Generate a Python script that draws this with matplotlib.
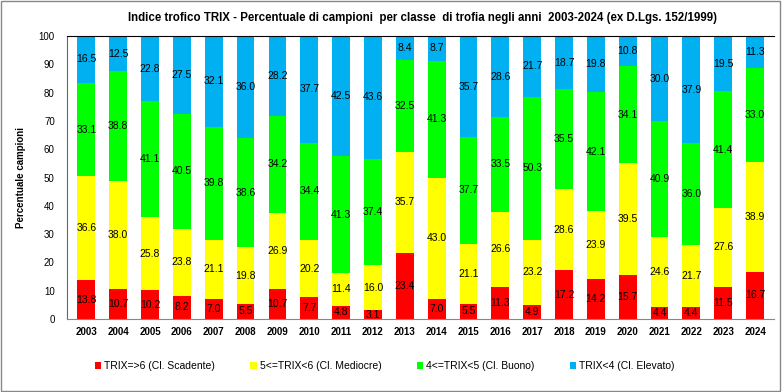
import numpy as np
import matplotlib.pyplot as plt
from matplotlib.patches import Rectangle

years = [str(y) for y in range(2003, 2025)]
scadente = [13.8, 10.7, 10.2, 8.2, 7.0, 5.5, 10.7, 7.7, 4.8, 3.1, 23.4,
            7.0, 5.5, 11.3, 4.9, 17.2, 14.2, 15.7, 4.4, 4.4, 11.5, 16.7]
mediocre = [36.6, 38.0, 25.8, 23.8, 21.1, 19.8, 26.9, 20.2, 11.4, 16.0, 35.7,
            43.0, 21.1, 26.6, 23.2, 28.6, 23.9, 39.5, 24.6, 21.7, 27.6, 38.9]
buono = [33.1, 38.8, 41.1, 40.5, 39.8, 38.6, 34.2, 34.4, 41.3, 37.4, 32.5,
         41.3, 37.7, 33.5, 50.3, 35.5, 42.1, 34.1, 40.9, 36.0, 41.4, 33.0]
elevato = [16.5, 12.5, 22.8, 27.5, 32.1, 36.0, 28.2, 37.7, 42.5, 43.6, 8.4,
           8.7, 35.7, 28.6, 21.7, 18.7, 19.8, 10.8, 30.0, 37.9, 19.5, 11.3]

series = [
    ("TRIX=>6 (Cl. Scadente)", scadente, "#ff0000"),
    ("5<=TRIX<6 (Cl. Mediocre)", mediocre, "#ffff00"),
    ("4<=TRIX<5 (Cl. Buono)", buono, "#00ff00"),
    ("TRIX<4 (Cl. Elevato)", elevato, "#00b0f0"),
]

plt.rcParams['font.family'] = ['Liberation Sans', 'DejaVu Sans']

fig = plt.figure(figsize=(7.82, 3.92), dpi=100)
fig.patches.append(Rectangle((0.001, 0.002), 0.997, 0.995, transform=fig.transFigure,
                             fill=False, edgecolor='#888888', linewidth=1))
ax = fig.add_axes([0.086, 0.186, 0.904, 0.722])

x = np.arange(len(years))
bottom = np.zeros(len(years))
for name, vals, col in series:
    vals = np.array(vals)
    ax.bar(x, vals, 0.56, bottom=bottom, color=col, label=name)
    for xi, b, v in zip(x, bottom, vals):
        ax.text(xi, b + v / 2, f"{v:.1f}", ha='center', va='center', fontsize=7.5)
    bottom += vals

ax.set_xlim(-0.6, len(years) - 0.4)
ax.set_ylim(0, 100)
ax.set_yticks(range(0, 101, 10))
ax.set_xticks(x)
ax.set_xticklabels(years, fontsize=7, fontweight='bold')
ax.tick_params(axis='y', labelsize=7, length=0, pad=9)
ax.tick_params(axis='x', length=0, pad=6)
ax.set_ylabel("Percentuale campioni", fontsize=7, fontweight='bold', labelpad=9)
ax.spines['left'].set_linestyle((0, (2, 1)))
ax.spines['left'].set_color('#4a6a90')
ax.spines['right'].set_visible(False)
ax.spines['bottom'].set_color('#888888')
ax.spines['top'].set_color('black')

fig.text(0.54, 0.955, "Indice trofico TRIX - Percentuale di campioni  per classe  di trofia negli anni  2003-2024 (ex D.Lgs. 152/1999)",
         ha='center', va='center', fontsize=8.3, fontweight='bold')

fig.legend(loc='center', bbox_to_anchor=(0.492, 0.066), ncol=4, frameon=False,
           fontsize=7.5, handlelength=0.6, handleheight=0.6, handletextpad=0.3,
           columnspacing=3.4)

fig.savefig("out.png", dpi=100)
